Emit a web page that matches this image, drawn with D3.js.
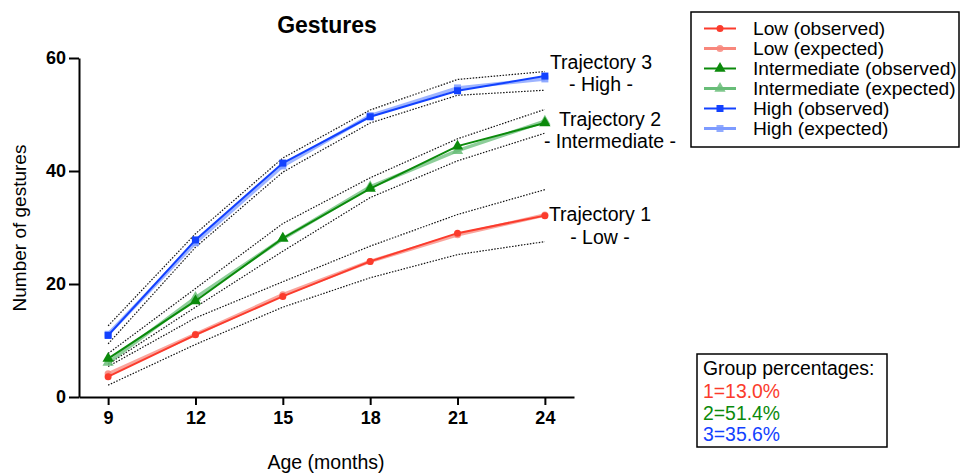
<!DOCTYPE html>
<html>
<head>
<meta charset="utf-8">
<script src="https://cdn.jsdelivr.net/npm/d3@7"></script>
<style>
  body { margin: 0; background: #fff; }
  svg { display: block; font-family: Arial, "Liberation Sans", sans-serif; }
</style>
</head>
<body>
<div id="chart"></div>
<script>
// Data
const ages = [9, 12, 15, 18, 21, 24];
const xTicks = [9, 12, 15, 18, 21, 24];
const yTicks = [0, 20, 40, 60];

const lowObserved = [3.6, 11.0, 17.8, 24.0, 29.0, 32.1];
const lowExpected = [4.1, 11.1, 18.1, 24.0, 28.7, 32.2];
const lowUpper = [5.4, 14.0, 20.4, 26.7, 32.3, 36.7];
const lowLower = [2.1, 9.3, 15.9, 21.1, 25.2, 27.5];

const midObserved = [6.8, 17.0, 28.1, 36.9, 44.4, 48.5];
const midExpected = [6.1, 17.6, 28.0, 37.2, 43.6, 48.8];
const midUpper = [7.7, 19.2, 30.7, 38.8, 45.7, 50.9];
const midLower = [5.8, 15.9, 25.8, 35.3, 41.8, 46.7];

const highObserved = [10.9, 27.8, 41.4, 49.6, 54.2, 56.8];
const highExpected = [11.1, 27.3, 40.9, 49.8, 54.7, 56.3];
const highUpper = [12.6, 28.9, 42.3, 50.8, 56.2, 57.6];
const highLower = [9.4, 26.5, 39.8, 48.5, 53.4, 54.3];

const legendLabels = ['Low (observed)', 'Low (expected)', 'Intermediate (observed)',
  'Intermediate (expected)', 'High (observed)', 'High (expected)'];
const trajectoryLabels = [['Trajectory 1', '- Low -'], ['Trajectory 2', '- Intermediate -'], ['Trajectory 3', '- High -']];
const groupPercentages = ['1=13.0%', '2=51.4%', '3=35.6%'];

const width = 960;
const height = 473;
const margin = { top: 58, right: 386, bottom: 76, left: 79 };

const svg = d3.select('#chart')
  .append('svg')
  .attr('width', width)
  .attr('height', height);

const x = d3.scaleLinear()
  .domain([8, 25])
  .range([margin.left, width - margin.right]);

const y = d3.scaleLinear()
  .domain([0, 60])
  .range([height - margin.bottom, margin.top]);

const line = d3.line()
  .x((d, i) => x(ages[i]))
  .y(d => y(d));

const groups = [
  { obs: lowObserved, exp: lowExpected, up: lowUpper, lo: lowLower, color: '#fb3b2c', light: '#f8877c', marker: 'circle' },
  { obs: midObserved, exp: midExpected, up: midUpper, lo: midLower, color: '#0b8a0b', light: '#68bd78', marker: 'triangle' },
  { obs: highObserved, exp: highExpected, up: highUpper, lo: highLower, color: '#1241ff', light: '#7d9bff', marker: 'square' }
];

function drawMarker(g, type, cx, cy, color, opacity) {
  if (type === 'circle') {
    g.append('circle').attr('cx', cx).attr('cy', cy).attr('r', 3.5)
      .attr('fill', color).attr('fill-opacity', opacity);
  } else if (type === 'triangle') {
    g.append('path')
      .attr('d', d3.symbol().type(d3.symbolTriangle).size(55)())
      .attr('transform', `translate(${cx},${cy})`)
      .attr('fill', color).attr('fill-opacity', opacity);
  } else {
    g.append('rect').attr('x', cx - 3.5).attr('y', cy - 3.5)
      .attr('width', 7).attr('height', 7)
      .attr('fill', color).attr('fill-opacity', opacity);
  }
}

// Confidence bands (dotted)
groups.forEach(gr => {
  [gr.up, gr.lo].forEach(arr => {
    svg.append('path')
      .datum(arr)
      .attr('fill', 'none')
      .attr('stroke', '#111')
      .attr('stroke-width', 1.2)
      .attr('stroke-dasharray', '1.5,1.5')
      .attr('d', line);
  });
});

// Expected lines
groups.forEach(gr => {
  const g = svg.append('g');
  g.append('path')
    .datum(gr.exp)
    .attr('fill', 'none')
    .attr('stroke', gr.light)
    .attr('stroke-opacity', 0.75)
    .attr('stroke-width', 3.5)
    .attr('d', line);
  gr.exp.forEach((v, i) => drawMarker(g, gr.marker, x(ages[i]), y(v), gr.light, 0.85));
});

// Observed lines
groups.forEach(gr => {
  const g = svg.append('g');
  g.append('path')
    .datum(gr.obs)
    .attr('fill', 'none')
    .attr('stroke', gr.color)
    .attr('stroke-width', 2)
    .attr('d', line);
  gr.obs.forEach((v, i) => drawMarker(g, gr.marker, x(ages[i]), y(v), gr.color, 1));
});

// Axes
svg.append('g')
  .attr('transform', `translate(0, ${height - margin.bottom})`)
  .call(d3.axisBottom(x).tickValues(xTicks).tickSize(8).tickSizeOuter(0).tickPadding(6))
  .call(g => g.select('.domain').attr('stroke-width', 2))
  .call(g => g.selectAll('.tick line').attr('stroke-width', 2))
  .call(g => g.selectAll('.tick text')
    .attr('font-size', 18).attr('font-weight', 'bold').attr('fill', '#000')
    .attr('font-family', 'Arial, "Liberation Sans", sans-serif'));

svg.append('g')
  .attr('transform', `translate(${margin.left}, 0)`)
  .call(d3.axisLeft(y).tickValues(yTicks).tickSize(10).tickSizeOuter(0).tickPadding(3))
  .call(g => g.select('.domain').attr('stroke-width', 2))
  .call(g => g.selectAll('.tick line').attr('stroke-width', 2))
  .call(g => g.selectAll('.tick text')
    .attr('font-size', 18).attr('font-weight', 'bold').attr('fill', '#000')
    .attr('font-family', 'Arial, "Liberation Sans", sans-serif'));

// Title and axis labels
svg.append('text')
  .attr('x', 327).attr('y', 33)
  .attr('text-anchor', 'middle')
  .attr('font-size', 23).attr('font-weight', 'bold')
  .text('Gestures');

svg.append('text')
  .attr('transform', 'translate(26, 228) rotate(-90)')
  .attr('text-anchor', 'middle')
  .attr('font-size', 19)
  .text('Number of gestures');

svg.append('text')
  .attr('x', 326).attr('y', 469)
  .attr('text-anchor', 'middle')
  .attr('font-size', 19.5)
  .text('Age (months)');

// Trajectory labels next to line ends
const trajPos = [
  { cx: 600, y1: 221, y2: 244 },
  { cx: 610, y1: 126, y2: 148 },
  { cx: 601, y1: 69, y2: 91 }
];
trajectoryLabels.forEach((lab, i) => {
  svg.append('text').attr('x', trajPos[i].cx).attr('y', trajPos[i].y1)
    .attr('text-anchor', 'middle').attr('font-size', 19.5).text(lab[0]);
  svg.append('text').attr('x', trajPos[i].cx).attr('y', trajPos[i].y2)
    .attr('text-anchor', 'middle').attr('font-size', 19.5).text(lab[1]);
});

// Legend
const legend = svg.append('g');
legend.append('rect')
  .attr('x', 691).attr('y', 12).attr('width', 268).attr('height', 135)
  .attr('fill', 'none').attr('stroke', '#000').attr('stroke-width', 1.5);

const legendItems = [];
groups.forEach(gr => {
  legendItems.push({ color: gr.color, marker: gr.marker, opacity: 1, width: 2 });
  legendItems.push({ color: gr.light, marker: gr.marker, opacity: 0.85, width: 3 });
});

legendItems.forEach((it, i) => {
  const ly = 28.5 + i * 20;
  legend.append('line')
    .attr('x1', 704).attr('x2', 736).attr('y1', ly).attr('y2', ly)
    .attr('stroke', it.color).attr('stroke-width', it.width);
  drawMarker(legend, it.marker, 720, ly, it.color, it.opacity);
  legend.append('text')
    .attr('x', 753).attr('y', ly + 6.5)
    .attr('font-size', 19.2)
    .text(legendLabels[i]);
});

// Group percentages box
const pct = svg.append('g');
pct.append('rect')
  .attr('x', 697).attr('y', 354).attr('width', 190).attr('height', 93)
  .attr('fill', 'none').attr('stroke', '#000').attr('stroke-width', 1.5);
pct.append('text')
  .attr('x', 703).attr('y', 375)
  .attr('font-size', 19.4)
  .text('Group percentages:');
groupPercentages.forEach((t, i) => {
  pct.append('text')
    .attr('x', 703).attr('y', 398 + i * 21.5)
    .attr('font-size', 19.4)
    .attr('fill', groups[i].color)
    .text(t);
});
</script>
</body>
</html>
